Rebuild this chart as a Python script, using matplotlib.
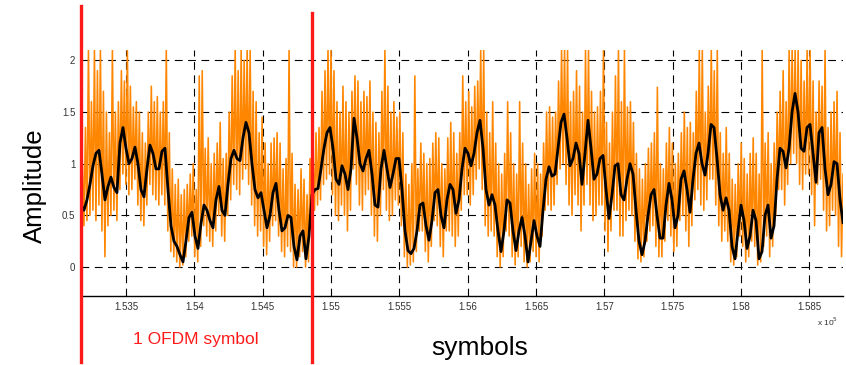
import numpy as np
import matplotlib
matplotlib.use("Agg")
import matplotlib.pyplot as plt

plt.rcParams['font.family'] = ['Liberation Sans', 'DejaVu Sans']

# sample axis (symbols) shown in the window
x_start = 153171
x_end = 158747

# smoothed amplitude (black), read every ~3 px across the plot
black = [
    0.60, 0.55, 0.65, 0.80, 0.98, 1.10, 1.13, 0.90, 0.65, 0.78, 0.87, 0.77, 0.72, 1.20, 1.35, 1.15, 1.00, 1.05, 1.16, 1.00,
    0.75, 0.68, 0.95, 1.18, 1.10, 0.95, 0.95, 1.12, 1.15, 0.75, 0.40, 0.25, 0.20, 0.12, 0.05, 0.25, 0.48, 0.53, 0.30, 0.18,
    0.42,
    0.60, 0.55, 0.45, 0.38, 0.65, 0.78, 0.55, 0.50, 0.80, 1.05, 1.13, 1.05, 1.03, 1.25, 1.40, 1.30, 1.00, 0.75, 0.67, 0.72,
    0.55, 0.38, 0.50, 0.72, 0.81, 0.55, 0.35, 0.38, 0.50, 0.48, 0.20, 0.07, 0.30, 0.35, 0.08, 0.30, 0.70, 0.75, 0.76, 0.95,
    1.15,
    1.30, 1.35, 1.15, 0.85, 0.80, 0.98, 0.90, 0.75, 0.95, 1.44, 1.25, 1.00, 0.93, 1.05, 1.13, 0.90, 0.60, 0.58, 0.95, 1.13,
    0.95, 0.77, 0.90, 1.05, 1.05, 0.75, 0.35, 0.16, 0.13, 0.18, 0.35, 0.60, 0.62, 0.40, 0.26, 0.45, 0.72, 0.75, 0.50, 0.38,
    0.65,
    0.80, 0.75, 0.52, 0.65, 0.95, 1.15, 1.10, 0.98, 1.10, 1.30, 1.42, 1.15, 0.75, 0.60, 0.70, 0.60, 0.35, 0.15, 0.35, 0.65,
    0.62, 0.35, 0.16, 0.35, 0.48, 0.30, 0.05, 0.25, 0.45, 0.30, 0.20, 0.55, 0.85, 0.97, 0.88, 0.90, 1.15, 1.40, 1.48, 1.25,
    0.98,
    1.05, 1.20, 1.10, 0.80, 1.10, 1.42, 1.15, 0.85, 0.90, 1.05, 1.08, 0.75, 0.47, 0.70, 0.98, 1.00, 0.70, 0.65, 0.85, 1.00,
    0.90, 0.55, 0.25, 0.12, 0.25, 0.50, 0.70, 0.75, 0.50, 0.28, 0.28, 0.60, 0.81, 0.65, 0.38, 0.50, 0.85, 0.93, 0.75, 0.53,
    0.85,
    1.10, 1.20, 1.00, 0.89, 1.10, 1.38, 1.35, 1.05, 0.70, 0.55, 0.67, 0.55, 0.20, 0.08, 0.35, 0.60, 0.45, 0.18, 0.30, 0.55,
    0.45, 0.08, 0.15, 0.50, 0.60, 0.28, 0.40, 0.85, 1.15, 1.12, 0.96, 1.15, 1.50, 1.68, 1.50, 1.15, 1.12, 1.35, 1.38, 1.10,
    0.82, 1.30, 1.35, 0.95, 0.70, 0.80, 1.02, 1.00, 0.65, 0.43,
]

# raw amplitude (orange): upper and lower swings at the same positions
raw_hi = [
    1.00, 1.35, 2.10, 1.60, 2.10, 1.90, 2.10, 1.70, 1.50, 1.30, 2.10, 1.50, 1.60, 1.90, 1.80, 2.10, 1.75, 1.55, 1.60, 1.50,
    1.30, 1.20, 1.50, 1.75, 1.60, 1.65, 1.50, 1.60, 2.10, 1.30, 0.95, 0.80, 0.85, 0.70, 0.75, 0.80, 0.90, 1.00, 0.75, 1.85,
    1.90,
    1.15, 1.25, 1.00, 1.10, 1.20, 1.40, 1.05, 1.10, 1.50, 1.85, 2.10, 1.90, 2.10, 2.00, 2.10, 2.10, 1.70, 1.60, 1.30, 1.45,
    1.20, 1.00, 1.20, 1.25, 1.30, 1.20, 0.95, 1.05, 2.10, 1.10, 0.80, 0.75, 0.95, 0.85, 0.70, 1.05, 1.10, 1.30, 1.35, 1.70,
    1.90,
    2.10, 2.10, 1.90, 1.60, 1.50, 1.75, 1.60, 1.50, 1.70, 1.85, 1.80, 1.60, 1.70, 1.65, 1.80, 1.50, 1.40, 1.30, 1.70, 2.10,
    1.75, 1.50, 1.60, 1.45, 1.50, 1.30, 0.90, 0.80, 1.00, 1.85, 0.95, 1.20, 1.10, 1.00, 1.05, 1.20, 1.30, 1.25, 1.00, 0.95,
    1.25,
    1.40, 1.30, 1.10, 1.30, 1.85, 1.60, 1.70, 1.55, 1.75, 1.80, 2.10, 2.10, 1.50, 1.30, 1.60, 1.20, 1.00, 0.90, 1.10, 1.60,
    1.30, 1.00, 0.90, 1.60, 1.20, 1.00, 0.80, 0.95, 1.10, 1.00, 0.90, 1.20, 1.50, 1.55, 1.45, 1.50, 1.80, 2.10, 2.10, 2.10,
    1.60,
    1.70, 1.90, 1.75, 1.50, 2.10, 2.10, 1.70, 1.50, 1.55, 1.70, 2.10, 1.40, 1.20, 1.50, 1.85, 2.10, 1.60, 2.10, 1.55, 1.60,
    1.40, 1.10, 0.95, 0.85, 1.00, 1.15, 1.20, 1.30, 1.74, 1.00, 0.95, 1.20, 1.35, 1.20, 1.00, 1.10, 1.30, 1.50, 1.35, 1.40,
    1.30,
    1.70, 2.10, 2.10, 1.50, 1.75, 2.10, 1.90, 2.10, 1.30, 1.10, 1.35, 1.10, 0.85, 0.80, 1.00, 1.20, 1.05, 0.90, 1.10, 1.25,
    1.10, 0.90, 2.10, 1.20, 1.30, 1.00, 1.20, 1.50, 1.70, 1.90, 1.60, 2.10, 2.10, 2.10, 2.10, 2.00, 1.80, 2.10, 2.10, 1.80,
    1.50, 1.80, 1.75, 2.10, 1.35, 1.50, 1.60, 1.70, 1.30, 0.90,
]
raw_lo = [
    0.35, 0.40, 0.45, 0.50, 0.55, 0.45, 0.60, 0.35, 0.10, 0.40, 0.50, 0.55, 0.45, 0.75, 0.90, 0.80, 0.70, 0.75, 0.85, 0.60,
    0.45, 0.40, 0.60, 0.80, 0.70, 0.65, 0.60, 0.70, 0.60, 0.35, 0.15, 0.10, 0.05, 0.00, 0.02, 0.10, 0.25, 0.30, 0.10, 0.05,
    0.20,
    0.40, 0.30, 0.25, 0.20, 0.35, 0.50, 0.30, 0.25, 0.50, 0.65, 0.80, 0.75, 0.70, 0.85, 0.95, 0.80, 0.60, 0.40, 0.30, 0.35,
    0.20, 0.12, 0.25, 0.40, 0.45, 0.30, 0.15, 0.10, 0.20, 0.15, 0.00, 0.00, 0.10, 0.15, 0.00, 0.05, 0.45, 0.55, 0.60, 0.65,
    0.80,
    0.85, 0.90, 0.70, 0.50, 0.45, 0.60, 0.50, 0.35, 0.55, 0.95, 0.80, 0.60, 0.55, 0.70, 0.75, 0.50, 0.30, 0.25, 0.50, 0.75,
    0.55, 0.45, 0.50, 0.65, 0.60, 0.40, 0.10, 0.00, 0.02, 0.05, 0.15, 0.35, 0.35, 0.15, 0.05, 0.20, 0.45, 0.40, 0.20, 0.10,
    0.35,
    0.35, 0.30, 0.20, 0.30, 0.55, 0.70, 0.70, 0.60, 0.70, 0.85, 0.95, 0.75, 0.40, 0.30, 0.35, 0.30, 0.10, 0.00, 0.10, 0.35,
    0.30, 0.10, 0.02, 0.10, 0.20, 0.05, 0.00, 0.05, 0.15, 0.10, 0.05, 0.30, 0.55, 0.60, 0.55, 0.60, 0.80, 0.95, 1.00, 0.80,
    0.60,
    0.50, 0.70, 0.60, 0.35, 0.60, 0.80, 0.60, 0.45, 0.50, 0.60, 0.60, 0.35, 0.15, 0.35, 0.55, 0.55, 0.30, 0.30, 0.45, 0.55,
    0.50, 0.25, 0.08, 0.05, 0.10, 0.25, 0.35, 0.40, 0.20, 0.10, 0.10, 0.25, 0.45, 0.30, 0.15, 0.20, 0.45, 0.50, 0.35, 0.20,
    0.40,
    0.65, 0.75, 0.60, 0.55, 0.65, 0.85, 0.85, 0.60, 0.40, 0.25, 0.35, 0.25, 0.05, 0.02, 0.10, 0.30, 0.20, 0.05, 0.10, 0.25,
    0.20, 0.02, 0.05, 0.20, 0.30, 0.10, 0.20, 0.50, 0.75, 0.75, 0.60, 0.80, 1.00, 1.10, 1.00, 0.80, 0.75, 0.90, 0.90, 0.70,
    0.40, 0.80, 0.85, 0.55, 0.35, 0.40, 0.55, 0.50, 0.20, 0.10,
]

# red markers: OFDM symbol boundaries
symbol_edges = [153171, 154861]

xticks = [153500, 154000, 154500, 155000, 155500, 156000, 156500, 157000, 157500, 158000, 158500]
xtick_labels = ['1.535', '1.54', '1.545', '1.55', '1.555', '1.56', '1.565', '1.57', '1.575', '1.58', '1.585']
yticks = [0, 0.5, 1, 1.5, 2]
ytick_labels = ['0', '0.5', '1', '1.5', '2']

# interleave hi/lo swings into one raw trace
raw = np.empty(2 * len(raw_hi))
raw[0::2] = raw_lo
raw[1::2] = raw_hi
x_raw = np.linspace(x_start, x_end, len(raw))
x_black = np.linspace(x_start, x_end, len(black))

fig = plt.figure(figsize=(8.46, 3.65), dpi=100)
ax = fig.add_axes([0.0957, 0.189, 0.9008, 0.674])

ax.plot(x_raw, raw, color='#ff8600', lw=1.15, zorder=2)
ax.plot(x_black, black, color='black', lw=2.0, zorder=3)

ax.set_xlim(x_start, x_end)
ax.set_ylim(-0.28, 2.1)
ax.set_xticks(xticks)
ax.set_xticklabels(xtick_labels)
ax.set_yticks(yticks)
ax.set_yticklabels(ytick_labels)
ax.tick_params(length=0, labelsize=7, labelcolor='#333333', pad=4)

ax.set_axisbelow(True)
ax.grid(True, color='black', lw=0.8, linestyle=(0, (7, 5)))
for s in ['top', 'right', 'left']:
    ax.spines[s].set_visible(False)
ax.spines['bottom'].set_linewidth(1.0)

for xe, top in zip(symbol_edges, [1.179, 1.150]):
    ax.axvline(xe, ymin=-0.268, ymax=top, color='#ff1a1a', lw=2.4, clip_on=False, zorder=5)

fig.text(0.041, 0.49, 'Amplitude', rotation=90, fontsize=18.5, ha='center', va='center')
fig.text(0.567, 0.046, 'symbols', fontsize=19, ha='center', va='center')
fig.text(0.232, 0.069, '1 OFDM symbol', fontsize=12.5, color='#ff1a1a', ha='center', va='center')
fig.text(0.991, 0.118, r'x 10$^5$', fontsize=6, color='#333333', ha='right', va='center')

fig.savefig('out.png', dpi=100)
